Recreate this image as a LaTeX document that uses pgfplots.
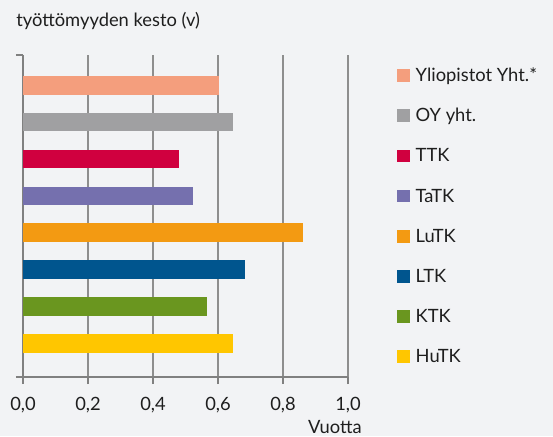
\documentclass[border=0pt]{standalone}
\usepackage{pgfplots}
\pgfplotsset{compat=1.18}
\usepackage{fontspec}
\setmainfont{Lato}
\definecolor{bg}{HTML}{F2F3F5}
\definecolor{gridc}{HTML}{8E8E8E}
\definecolor{axc}{HTML}{808080}
\definecolor{txt}{HTML}{1E1E1E}
\definecolor{cYli}{HTML}{F49E7D}
\definecolor{cOY}{HTML}{A0A0A2}
\definecolor{cTTK}{HTML}{D0003F}
\definecolor{cTaTK}{HTML}{7570AE}
\definecolor{cLuTK}{HTML}{F39A12}
\definecolor{cLTK}{HTML}{00558E}
\definecolor{cKTK}{HTML}{6A961F}
\definecolor{cHuTK}{HTML}{FFC600}
\begin{document}
\fontsize{11}{13}\selectfont
\begin{tikzpicture}[x=0.6pt,y=0.6pt]
\useasboundingbox (0,0) rectangle (553,436);
\fill[bg] (0,0) rectangle (553,436);
\node[anchor=base west, inner sep=0pt, text=txt] at (16,410) {työttömyyden kesto (v)};
\begin{axis}[
  at={(13.8pt,35.4pt)}, anchor=south west, scale only axis,
  width=195pt, height=193.2pt,
  xmin=0, xmax=1, ymin=-0.914, ymax=7.822,
  xbar,
  axis x line*=bottom, axis y line*=left,
  xtick={0,0.2,0.4,0.6,0.8,1},
  ytick={-0.914,7.822}, yticklabels={},
  xmajorgrids, grid style={color=gridc, line width=0.9pt},
  axis line style={color=axc, line width=0.9pt},
  tick style={color=axc, line width=0.9pt},
  tick align=outside, major tick length=4.2pt,
  xticklabel style={text=txt, anchor=north, yshift=-4pt},
  /pgf/number format/.cd, fixed, fixed zerofill, precision=1, use comma, assume math mode=true,
  /pgfplots/.cd,
  mybar/.style={fill=#1, draw=none, bar shift=0pt, bar width=11.2pt,
    legend image code/.code={\fill[##1] (0pt,-0.2pt) rectangle (7.6pt,7.4pt);}},
  legend style={at={(1.1508,0.9565)}, anchor=north west, draw=none, fill=none,
    inner sep=0pt, outer sep=0pt, row sep=16.4pt, column sep=3.6pt,
    nodes={inner sep=0pt, text height=7.5pt, text depth=0pt, anchor=base west, text=txt}},
  legend cell align=left,
]
\addplot[mybar=cYli] coordinates {(0.603,7)};
\addlegendentry{Yliopistot Yht.*}
\addplot[mybar=cOY] coordinates {(0.645,6)};
\addlegendentry{OY yht.}
\addplot[mybar=cTTK] coordinates {(0.480,5)};
\addlegendentry{TTK}
\addplot[mybar=cTaTK] coordinates {(0.523,4)};
\addlegendentry{TaTK}
\addplot[mybar=cLuTK] coordinates {(0.862,3)};
\addlegendentry{LuTK}
\addplot[mybar=cLTK] coordinates {(0.683,2)};
\addlegendentry{LTK}
\addplot[mybar=cKTK] coordinates {(0.566,1)};
\addlegendentry{KTK}
\addplot[mybar=cHuTK] coordinates {(0.645,0)};
\addlegendentry{HuTK}
\end{axis}
\node[anchor=base east, inner sep=0pt, text=txt] at (362,3) {Vuotta};
\end{tikzpicture}
\end{document}
